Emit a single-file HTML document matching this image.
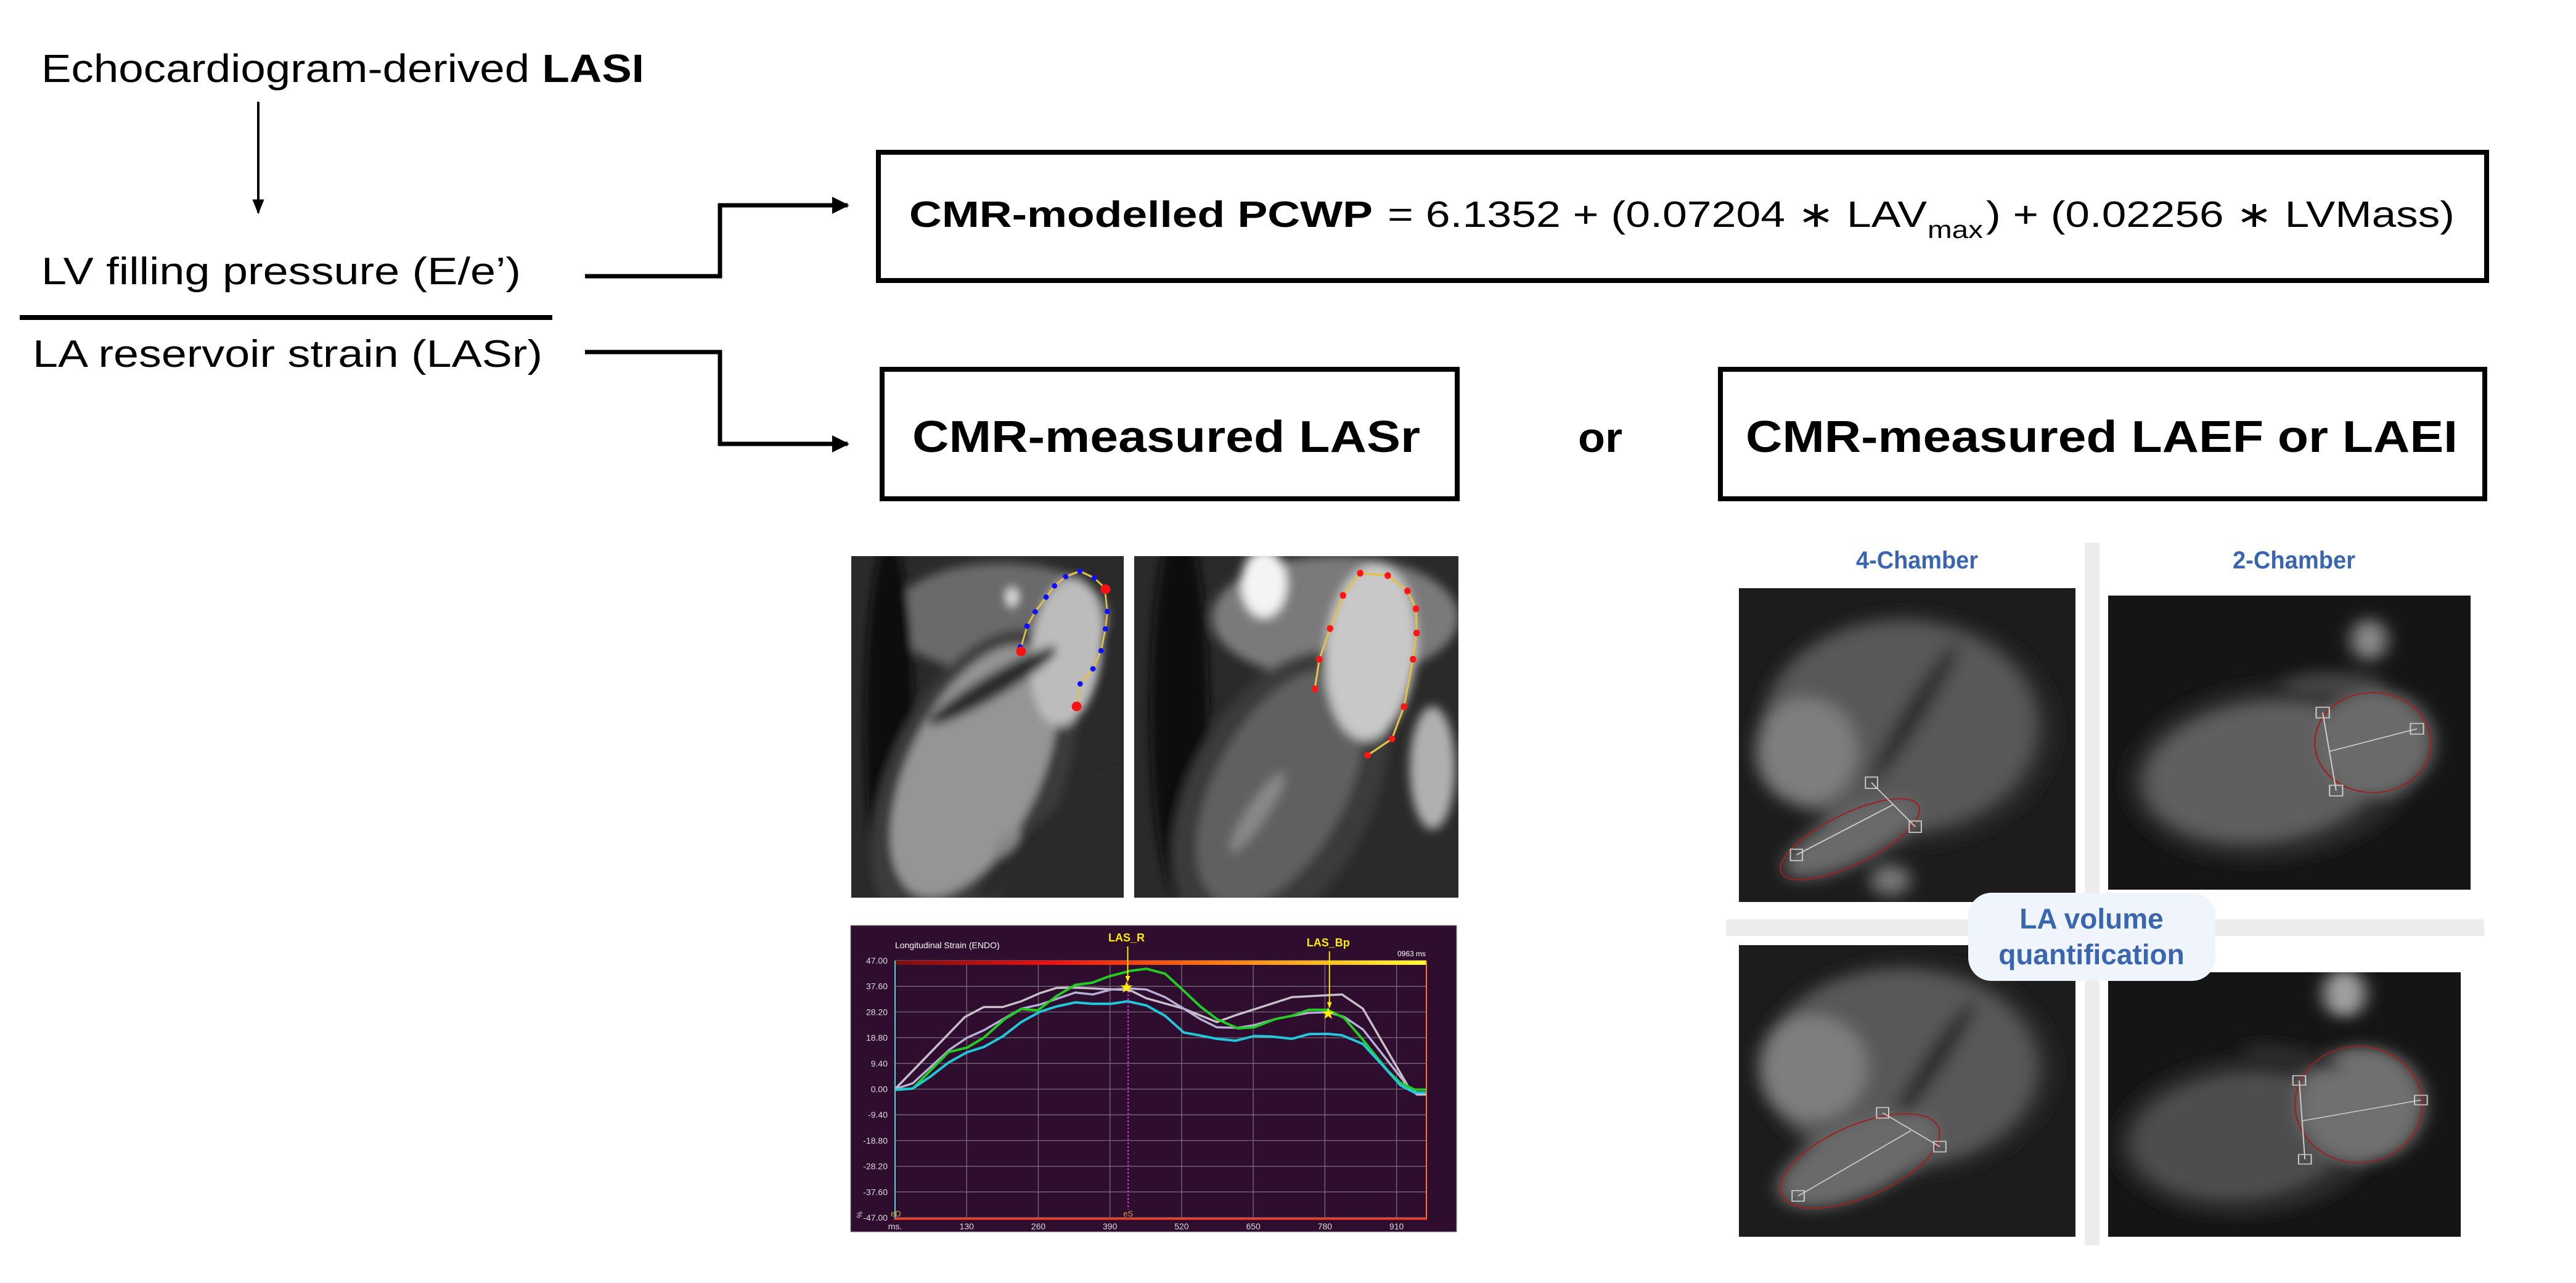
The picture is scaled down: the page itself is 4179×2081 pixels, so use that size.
<!DOCTYPE html>
<html><head><meta charset="utf-8"><style>
html,body{margin:0;padding:0;background:#fff;}
svg{display:block;}
text{font-family:"Liberation Sans",sans-serif;}
</style></head><body>
<svg id="root" width="4179" height="2081" viewBox="0 0 4179 2081" xmlns="http://www.w3.org/2000/svg">
<defs>
<filter id="blur8" x="-20%" y="-20%" width="140%" height="140%"><feGaussianBlur stdDeviation="1.5"/></filter>
<filter id="blur14" x="-20%" y="-20%" width="140%" height="140%"><feGaussianBlur stdDeviation="2.5"/></filter>
<marker id="ah" viewBox="0 0 10 10" refX="9" refY="5" markerWidth="4" markerHeight="4" orient="auto"><path d="M0,0 L10,5 L0,10 z" fill="#000"/></marker>
<marker id="ahs" viewBox="0 0 10 10" refX="9" refY="5" markerWidth="6" markerHeight="6" orient="auto"><path d="M0,1 L10,5 L0,9 z" fill="#000"/></marker>
<marker id="ahy" viewBox="0 0 10 10" refX="9" refY="5" markerWidth="5" markerHeight="5" orient="auto"><path d="M0,1 L10,5 L0,9 z" fill="#ffee00"/></marker>
<linearGradient id="cbar" x1="0" x2="1" y1="0" y2="0"><stop offset="0" stop-color="#7a1010"/><stop offset="0.3" stop-color="#ee1111"/><stop offset="0.6" stop-color="#ff7711"/><stop offset="1" stop-color="#ffff33"/></linearGradient>
</defs>

<text x="67" y="133" font-size="64" textLength="978" lengthAdjust="spacingAndGlyphs">Echocardiogram-derived <tspan font-weight="bold">LASI</tspan></text>
<line x1="419" y1="165" x2="419" y2="345" stroke="#000" stroke-width="4" marker-end="url(#ahs)"/>
<text x="67" y="461" font-size="62" textLength="778" lengthAdjust="spacingAndGlyphs">LV filling pressure (E/e’)</text>
<rect x="32" y="511" width="864" height="8" fill="#000"/>
<text x="53" y="595" font-size="62" textLength="827" lengthAdjust="spacingAndGlyphs">LA reservoir strain (LASr)</text>

<polyline points="949,448 1168,448 1168,333 1375,333" fill="none" stroke="#000" stroke-width="7" marker-end="url(#ah)"/>
<polyline points="949,571 1168,571 1168,720 1375,720" fill="none" stroke="#000" stroke-width="7" marker-end="url(#ah)"/>

<rect x="1425" y="247" width="2609" height="208" fill="#fff" stroke="#000" stroke-width="8"/>
<text x="1475" y="368" font-size="59" font-weight="bold" textLength="752" lengthAdjust="spacingAndGlyphs">CMR-modelled PCWP</text>
<text x="2251" y="368" font-size="59" textLength="875" lengthAdjust="spacingAndGlyphs">= 6.1352 + (0.07204 ∗ LAV</text>
<text x="3127" y="386" font-size="40" textLength="90" lengthAdjust="spacingAndGlyphs">max</text>
<text x="3222" y="368" font-size="59" textLength="760" lengthAdjust="spacingAndGlyphs">) + (0.02256 ∗ LVMass)</text>

<rect x="1431" y="599" width="933" height="210" fill="#fff" stroke="#000" stroke-width="8"/>
<text x="1480" y="733" font-size="72" font-weight="bold" textLength="824" lengthAdjust="spacingAndGlyphs">CMR-measured LASr</text>
<text x="2560" y="733" font-size="68" font-weight="bold" textLength="72" lengthAdjust="spacingAndGlyphs">or</text>
<rect x="2791" y="599" width="1240" height="210" fill="#fff" stroke="#000" stroke-width="8"/>
<text x="2832" y="733" font-size="72" font-weight="bold" textLength="1155" lengthAdjust="spacingAndGlyphs">CMR-measured LAEF or LAEI</text>

<svg x="1381" y="902" width="442" height="554" viewBox="0 0 100 100" preserveAspectRatio="none">
<rect width="100" height="100" fill="#2a2a2a"/>
<g filter="url(#blur8)">
<ellipse cx="55" cy="18" rx="40" ry="16" fill="#6a6a6a"/>
<ellipse cx="14" cy="50" rx="9" ry="55" fill="#0e0e0e"/>
<ellipse cx="45" cy="66" rx="30" ry="50" transform="rotate(35 45 66)" fill="#3a3a3a"/>
<ellipse cx="45" cy="63" rx="23" ry="42" transform="rotate(35 45 63)" fill="#959595"/>
<ellipse cx="79" cy="28" rx="13" ry="22" transform="rotate(10 79 28)" fill="#bcbcbc"/>
<ellipse cx="52" cy="38" rx="26" ry="3.5" transform="rotate(-25 52 38)" fill="#2a2a2a"/>
<ellipse cx="72" cy="82" rx="32" ry="5" transform="rotate(-35 72 82)" fill="#2a2a2a"/>
<ellipse cx="57" cy="84" rx="6" ry="2.5" transform="rotate(-35 57 84)" fill="#888"/>
<ellipse cx="59" cy="12" rx="2.5" ry="2.5" fill="#ddd"/>
</g>
<polyline points="62,27.6 64.5,20.5 67.5,16.3 71.5,12 74.6,8.7 78.7,6 83.9,4.4 89.2,6.4 93,9.3 94,16.2 93.3,21.3 91.7,27.7 88.7,33 84,37.4 82.9,43.6" fill="none" stroke="#e3c04a" stroke-width="0.6"/>
<g fill="#1010ff"><ellipse cx="62" cy="26.6" rx="1" ry="0.8"/><ellipse cx="64.5" cy="20.5" rx="1" ry="0.8"/><ellipse cx="67.5" cy="16.3" rx="1" ry="0.8"/><ellipse cx="71.5" cy="12" rx="1" ry="0.8"/><ellipse cx="74.6" cy="8.7" rx="1" ry="0.8"/><ellipse cx="78.7" cy="6" rx="1" ry="0.8"/><ellipse cx="83.9" cy="4.4" rx="1" ry="0.8"/><ellipse cx="89.2" cy="6.4" rx="1" ry="0.8"/><ellipse cx="94" cy="16.2" rx="1" ry="0.8"/><ellipse cx="93.3" cy="21.3" rx="1" ry="0.8"/><ellipse cx="91.7" cy="27.7" rx="1" ry="0.8"/><ellipse cx="88.7" cy="33" rx="1" ry="0.8"/><ellipse cx="84" cy="37.4" rx="1" ry="0.8"/></g>
<g fill="#ff1010"><ellipse cx="62.3" cy="27.9" rx="1.8" ry="1.4"/><ellipse cx="93.3" cy="9.7" rx="1.8" ry="1.4"/><ellipse cx="82.7" cy="44" rx="1.8" ry="1.4"/></g>
</svg>
<svg x="1840" y="902" width="526" height="554" viewBox="0 0 100 100" preserveAspectRatio="none">
<rect width="100" height="100" fill="#2a2a2a"/>
<g filter="url(#blur8)">
<ellipse cx="62" cy="18" rx="38" ry="18" fill="#7a7a7a"/>
<ellipse cx="14" cy="45" rx="9" ry="55" fill="#111"/>
<ellipse cx="45" cy="70" rx="28" ry="46" transform="rotate(30 45 70)" fill="#3a3a3a"/>
<ellipse cx="45" cy="68" rx="20" ry="38" transform="rotate(30 45 68)" fill="#606060"/>
<ellipse cx="40" cy="8" rx="7" ry="10" fill="#f4f4f4"/>
<ellipse cx="73" cy="28" rx="14" ry="26" transform="rotate(5 73 28)" fill="#c8c8c8"/>
<ellipse cx="92" cy="62" rx="7" ry="18" fill="#b0b0b0"/>
<ellipse cx="38" cy="75" rx="3" ry="14" transform="rotate(35 38 75)" fill="#888"/>
</g>
<polyline points="55.7,38.9 57.1,30.2 60.4,21.2 64.4,11.5 69.7,5 78.2,5.7 84.3,10.2 86.9,15.4 87.1,22.5 86,30.2 83.2,44.1 79.5,53.5 72,58.3" fill="none" stroke="#e3c04a" stroke-width="0.6"/>
<g fill="#ff1515"><ellipse cx="55.7" cy="38.9" rx="1" ry="1"/><ellipse cx="57.1" cy="30.2" rx="1" ry="1"/><ellipse cx="60.4" cy="21.2" rx="1" ry="1"/><ellipse cx="64.4" cy="11.5" rx="1" ry="1"/><ellipse cx="69.7" cy="5" rx="1" ry="1"/><ellipse cx="78.2" cy="5.7" rx="1" ry="1"/><ellipse cx="84.3" cy="10.2" rx="1" ry="1"/><ellipse cx="86.9" cy="15.4" rx="1" ry="1"/><ellipse cx="87.1" cy="22.5" rx="1" ry="1"/><ellipse cx="86" cy="30.2" rx="1" ry="1"/><ellipse cx="83.2" cy="44.1" rx="1" ry="1"/><ellipse cx="79.5" cy="53.5" rx="1" ry="1"/><ellipse cx="72" cy="58.3" rx="1" ry="1"/></g>
</svg>

<g id="strain-chart">
<rect x="1380" y="1501" width="983" height="497" fill="#2e0d2e" stroke="#888" stroke-width="1"/>
<text x="1452" y="1538" font-size="14" fill="#fff">Longitudinal Strain (ENDO)</text>
<text x="2313" y="1551" font-size="12" fill="#fff" text-anchor="end">0963 ms</text>
<g id="grid"></g>
<rect x="1453" y="1558" width="860" height="7" fill="url(#cbar)"/>
<g id="series"></g>
<g id="annot"></g>
<line x1="1452" y1="1558" x2="1452" y2="1976" stroke="#4fd8d8" stroke-width="2"/>
<line x1="2314" y1="1558" x2="2314" y2="1978" stroke="#ff7a22" stroke-width="2"/>
<line x1="1450" y1="1977" x2="2315" y2="1977" stroke="#ff3a1a" stroke-width="3"/>
<text x="1445" y="1973" font-size="13" fill="#d8a040">eD</text>
<text x="1390" y="1965" font-size="12" fill="#ddd" transform="rotate(90 1390 1965)">%</text>
</g>

<rect x="3382" y="880" width="24" height="1140" fill="#ececec"/>
<rect x="2800" y="1491" width="1230" height="27" fill="#ececec"/>
<text x="3011" y="922" font-size="40" font-weight="bold" fill="#3a66b0" textLength="198" lengthAdjust="spacingAndGlyphs">4-Chamber</text>
<text x="3622" y="922" font-size="40" font-weight="bold" fill="#3a66b0" textLength="199" lengthAdjust="spacingAndGlyphs">2-Chamber</text>

<svg x="2821" y="954" width="546" height="509" viewBox="0 0 100 100" preserveAspectRatio="none">
<rect width="100" height="100" fill="#1c1c1c"/>
<g filter="url(#blur14)">
<ellipse cx="50" cy="45" rx="44" ry="37" fill="#2a2a2a"/>
<ellipse cx="48" cy="44" rx="40" ry="33" fill="#585858"/>
<ellipse cx="20" cy="52" rx="15" ry="17" fill="#7e7e7e"/>
<ellipse cx="52" cy="40" rx="3" ry="26" transform="rotate(30 52 40)" fill="#252525"/>
<ellipse cx="33" cy="80" rx="22" ry="8" transform="rotate(-28 33 80)" fill="#6a6a6a"/>
<ellipse cx="45" cy="93" rx="6" ry="5" fill="#777"/>
</g>
<ellipse cx="33" cy="80" rx="23" ry="8" transform="rotate(-28 33 80)" fill="none" stroke="#a02020" stroke-width="0.4"/>
<g fill="none" stroke="#ccc" stroke-width="0.35"><line x1="39.4" y1="62" x2="52.4" y2="76"/><line x1="17.1" y1="85" x2="45.8" y2="69"/><rect x="37.6" y="60.2" width="3.6" height="3.6"/><rect x="50.6" y="74.2" width="3.6" height="3.6"/><rect x="15.3" y="83.2" width="3.6" height="3.6"/></g>
</svg>
<svg x="3420" y="966" width="588" height="477" viewBox="0 0 100 100" preserveAspectRatio="none">
<rect width="100" height="100" fill="#151515"/>
<g filter="url(#blur14)">
<ellipse cx="45" cy="60" rx="40" ry="30" transform="rotate(-12 45 60)" fill="#2c2c2c"/>
<ellipse cx="43" cy="60" rx="33" ry="23" transform="rotate(-12 43 60)" fill="#5e5e5e"/>
<ellipse cx="74" cy="50" rx="16" ry="18" fill="#6a6a6a"/>
<ellipse cx="72" cy="15" rx="5" ry="7" fill="#8a8a8a"/>
<ellipse cx="62" cy="30" rx="14" ry="4" fill="#444"/>
</g>
<ellipse cx="73" cy="50" rx="16" ry="17" fill="none" stroke="#a02020" stroke-width="0.4"/>
<g fill="none" stroke="#ccc" stroke-width="0.35"><line x1="59.2" y1="39.8" x2="62.9" y2="66.3"/><line x1="61" y1="53" x2="85.2" y2="45.3"/><rect x="57.4" y="38" width="3.6" height="3.6"/><rect x="61.1" y="64.5" width="3.6" height="3.6"/><rect x="83.4" y="43.5" width="3.6" height="3.6"/></g>
</svg>
<svg x="2821" y="1533" width="546" height="473" viewBox="0 0 100 100" preserveAspectRatio="none">
<rect width="100" height="100" fill="#1c1c1c"/>
<g filter="url(#blur14)">
<ellipse cx="50" cy="42" rx="44" ry="37" fill="#2a2a2a"/>
<ellipse cx="48" cy="42" rx="40" ry="33" fill="#585858"/>
<ellipse cx="22" cy="42" rx="16" ry="18" fill="#7e7e7e"/>
<ellipse cx="58" cy="40" rx="3" ry="24" transform="rotate(30 58 40)" fill="#252525"/>
<ellipse cx="35" cy="74" rx="26" ry="12" transform="rotate(-28 35 74)" fill="#6a6a6a"/>
</g>
<ellipse cx="36" cy="74" rx="26" ry="12" transform="rotate(-28 36 74)" fill="none" stroke="#a02020" stroke-width="0.4"/>
<g fill="none" stroke="#ccc" stroke-width="0.35"><line x1="42.7" y1="57.5" x2="59.7" y2="69.1"/><line x1="17.6" y1="86" x2="51.1" y2="63.6"/><rect x="40.9" y="55.7" width="3.6" height="3.6"/><rect x="57.9" y="67.3" width="3.6" height="3.6"/><rect x="15.8" y="84.2" width="3.6" height="3.6"/></g>
</svg>
<svg x="3420" y="1577" width="572" height="429" viewBox="0 0 100 100" preserveAspectRatio="none">
<rect width="100" height="100" fill="#151515"/>
<g filter="url(#blur14)">
<ellipse cx="40" cy="62" rx="38" ry="30" transform="rotate(-12 40 62)" fill="#2a2a2a"/>
<ellipse cx="38" cy="62" rx="31" ry="23" transform="rotate(-12 38 62)" fill="#4e4e4e"/>
<ellipse cx="72" cy="50" rx="18" ry="22" fill="#707070"/>
<ellipse cx="67" cy="8" rx="6" ry="9" fill="#a0a0a0"/>
<ellipse cx="52" cy="32" rx="14" ry="4" transform="rotate(15 52 32)" fill="#2a2a2a"/>
</g>
<ellipse cx="71" cy="50" rx="18" ry="22" fill="none" stroke="#a02020" stroke-width="0.4"/>
<g fill="none" stroke="#ccc" stroke-width="0.35"><line x1="54.2" y1="40.9" x2="55.8" y2="70.7"/><line x1="54.9" y1="56.2" x2="88.7" y2="48.3"/><rect x="52.4" y="39.1" width="3.6" height="3.6"/><rect x="54" y="68.9" width="3.6" height="3.6"/><rect x="86.9" y="46.5" width="3.6" height="3.6"/></g>
</svg>

<rect x="3193" y="1448" width="401" height="143" rx="38" fill="#f0f4fd"/>
<text x="3393" y="1506" font-size="46" font-weight="bold" fill="#3a66b0" text-anchor="middle">LA volume</text>
<text x="3393" y="1564" font-size="46" font-weight="bold" fill="#3a66b0" text-anchor="middle">quantification</text>
</svg>

<script>
var yTickLabels = ["47.00","37.60","28.20","18.80","9.40","0.00","-9.40","-18.80","-28.20","-37.60","-47.00"];
var yTickValues = [47,37.6,28.2,18.8,9.4,0,-9.4,-18.8,-28.2,-37.6,-47];
var xTickValues = [0,130,260,390,520,650,780,910];
var xTickLabels = ["ms.","130","260","390","520","650","780","910"];
var whiteT = [0,127,161,195,229,263,293,324,426,456,524,584,615,720,811,849,932,947,963];
var whiteV = [0,26.4,30.0,30.0,32.1,35.1,37.0,37.1,36.2,33.2,29.4,24.5,26.8,33.6,34.6,29.4,0.6,-2.0,-2.0];
var lavenderT = [0,32,100,131,161,229,263,327,359,392,426,456,490,524,554,584,622,652,690,751,785,815,849,932,947,963];
var lavenderV = [0,2.1,14.6,18.8,21.5,29.4,30.9,35.3,34.6,36.4,36.8,36.4,33.6,29.4,25.6,22.6,22.4,23.4,25.6,27.9,28.1,26.4,21.8,0.6,-1.3,-1.3];
var greenT = [0,32,97,131,161,199,229,259,293,327,358,388,426,456,490,524,554,584,622,652,690,720,751,785,815,849,894,917,943,963];
var greenV = [-0.3,0.2,13.5,15.2,18.8,25.6,29.3,28.8,34.0,38.1,38.9,41.2,43.2,44.0,42.2,35.9,30.2,25.6,22.2,22.6,25.6,26.8,29.0,29.0,26.0,18.0,6.7,2.3,-0.2,-0.2];
var cyanT = [0,32,63,97,131,161,195,229,263,293,327,358,392,422,456,490,524,554,584,618,652,683,720,751,785,811,849,887,917,943,963];
var cyanV = [-0.3,0.2,4.4,9.7,13.5,15.4,19.2,24.5,28.3,30.2,31.7,31.2,31.2,32.1,30.6,26.8,20.7,19.6,18.4,17.7,19.4,19.2,18.4,20.1,20.2,19.7,16.5,8.2,1.4,-1.3,-1.3];
var eventNames = ["LAS_R","LAS_Bp"];
var eventT = [420,786];
var eventV = [37.1,27.5];
var esTime = 423;

var NS = "http://www.w3.org/2000/svg";
function xs(t){ return 1452 + (t/963)*(2313-1452); }
function ys(v){ return 1766.5 - v*(1975-1558)/94; }
function mk(tag, parent){ var e = document.createElementNS(NS, tag); parent.appendChild(e); return e; }

var grid = document.getElementById("grid");
for (var i=0;i<yTickValues.length;i++){
  var gl = mk("line", grid);
  
  
  gl.setAttribute("x1",1452); gl.setAttribute("x2",2313);
  gl.setAttribute("y1",ys(yTickValues[i])); gl.setAttribute("y2",ys(yTickValues[i]));
  gl.setAttribute("stroke","#7a6a7a"); gl.setAttribute("stroke-width","1.3");
  var tl = mk("text", grid);
  
  
  tl.setAttribute("x",1440); tl.setAttribute("y",ys(yTickValues[i])+5);
  tl.setAttribute("text-anchor","end"); tl.setAttribute("font-size","14"); tl.setAttribute("fill","#ddd");
  tl.textContent = yTickLabels[i];
}
for (var j=0;j<xTickValues.length;j++){
  if (j>0){
    var vl = mk("line", grid);
    
    
    vl.setAttribute("x1",xs(xTickValues[j])); vl.setAttribute("x2",xs(xTickValues[j]));
    vl.setAttribute("y1",1558); vl.setAttribute("y2",1976);
    vl.setAttribute("stroke","#7a6a7a"); vl.setAttribute("stroke-width","1.3");
  }
  var xl = mk("text", grid);
  
  
  xl.setAttribute("x",xs(xTickValues[j])); xl.setAttribute("y",1994);
  xl.setAttribute("text-anchor","middle"); xl.setAttribute("font-size","14"); xl.setAttribute("fill","#ddd");
  xl.textContent = xTickLabels[j];
}

var seriesG = document.getElementById("series");
function drawSeries(T, V, color, w, name){
  var d = "";
  for (var k=0;k<T.length;k++){ d += (k?"L":"M") + xs(T[k]).toFixed(1) + "," + ys(V[k]).toFixed(1); }
  var p = mk("path", seriesG);
  
  
  p.setAttribute("d", d); p.setAttribute("fill","none");
  p.setAttribute("stroke", color); p.setAttribute("stroke-width", w);
  p.setAttribute("stroke-linejoin","round");
}
drawSeries(whiteT, whiteV, "#c8c0c8", 3.5, "strain-series-white");
drawSeries(lavenderT, lavenderV, "#b8b0d8", 3.5, "strain-series-lavender");
drawSeries(greenT, greenV, "#22cc22", 4, "strain-series-green");
drawSeries(cyanT, cyanV, "#22c8d8", 4, "strain-series-cyan");

var an = document.getElementById("annot");
var es = mk("line", an);


es.setAttribute("x1",xs(esTime)); es.setAttribute("x2",xs(esTime));
es.setAttribute("y1",1595); es.setAttribute("y2",1962);
es.setAttribute("stroke","#d040e0"); es.setAttribute("stroke-width","2"); es.setAttribute("stroke-dasharray","3,3");
var esl = mk("text", an);


esl.setAttribute("x",xs(esTime)); esl.setAttribute("y",1973); esl.setAttribute("text-anchor","middle");
esl.setAttribute("font-size","13"); esl.setAttribute("fill","#d8a040");
esl.textContent = "eS";
var labelY = [1527,1535];
for (var m=0;m<eventNames.length;m++){
  var ex = xs(eventT[m]), ey = ys(eventV[m]);
  var lab = mk("text", an);
  
  
  lab.setAttribute("x",ex); lab.setAttribute("y",labelY[m]); lab.setAttribute("text-anchor","middle");
  lab.setAttribute("font-size","18"); lab.setAttribute("font-weight","bold"); lab.setAttribute("fill","#ffee00");
  lab.textContent = eventNames[m];
  var ar = mk("line", an);
  
  
  ar.setAttribute("x1",ex+2); ar.setAttribute("x2",ex+2); ar.setAttribute("y1",labelY[m]+8); ar.setAttribute("y2",ey-10);
  ar.setAttribute("stroke","#ffee00"); ar.setAttribute("stroke-width","2"); ar.setAttribute("marker-end","url(#ahy)");
  var st = mk("text", an);
  
  
  st.setAttribute("x",ex); st.setAttribute("y",ey+8); st.setAttribute("text-anchor","middle");
  st.setAttribute("font-size","26"); st.setAttribute("fill","#ffee00");
  st.textContent = "★";
}
</script>
</body></html>
